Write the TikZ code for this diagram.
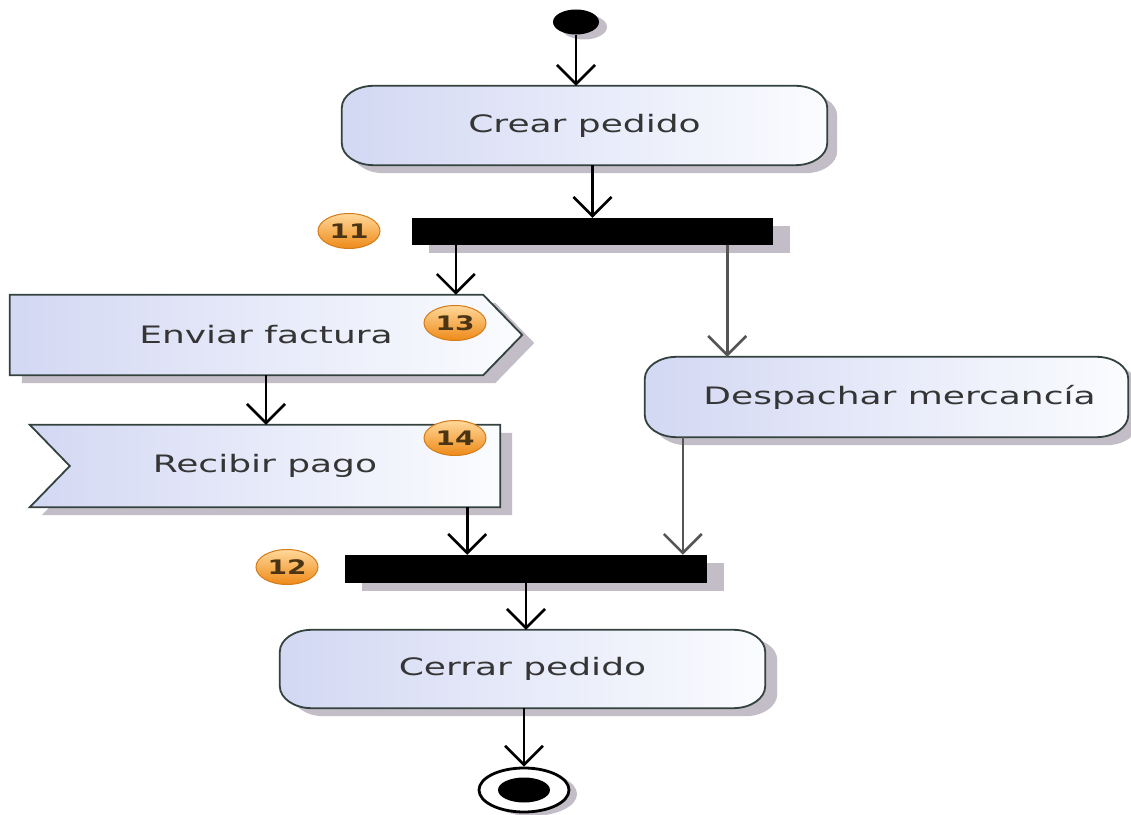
\documentclass[tikz,border=0pt]{standalone}
\usepackage{fontspec}
\usetikzlibrary{arrows.meta,shapes.geometric,calc,backgrounds}

\newfontfamily\lblfont[FakeStretch=1.5]{DejaVu Sans}
\newfontfamily\numfont[FakeStretch=1.4]{DejaVu Sans}

\definecolor{boxleft}{HTML}{D3D8F3}
\definecolor{boxright}{HTML}{FBFCFF}
\definecolor{boxedge}{HTML}{34423F}
\definecolor{shadowgray}{HTML}{C2BDC7}
\definecolor{labelgray}{HTML}{353535}
\definecolor{flowgray}{HTML}{555555}
\definecolor{badgetop}{HTML}{FFD89A}
\definecolor{badgebottom}{HTML}{EE8A18}
\definecolor{badgeedge}{HTML}{D47C1A}
\definecolor{badgetext}{HTML}{4A3413}

% corner radii of the action boxes
\def\rx{32pt}
\def\ry{22pt}

% rounded action box drawn around a named node, offset by (#3,#4)
\newcommand\actionpath[4]{%
  \path[#1] let \p1=($(#2.south west)+(#3,#4)$), \p2=($(#2.north east)+(#3,#4)$) in
    (\x1+\rx,\y1) -- (\x2-\rx,\y1)
    arc[start angle=-90,end angle=0,x radius=\rx,y radius=\ry]
    -- (\x2,\y2-\ry)
    arc[start angle=0,end angle=90,x radius=\rx,y radius=\ry]
    -- (\x1+\rx,\y2)
    arc[start angle=90,end angle=180,x radius=\rx,y radius=\ry]
    -- (\x1,\y1+\ry)
    arc[start angle=180,end angle=270,x radius=\rx,y radius=\ry]
    -- cycle;}

% send-signal pentagon around a named node, offset by (#3,#4)
\newcommand\sendpath[4]{%
  \path[#1] let \p1=($(#2.south west)+(#3,#4)$), \p2=($(#2.north east)+(#3,#4)$) in
    (\x1,\y1) -- (\x2-39pt,\y1) -- (\x2,{(\y1+\y2)/2})
    -- (\x2-39pt,\y2) -- (\x1,\y2) -- cycle;}

% accept-event shape with a notch on the left, offset by (#3,#4)
\newcommand\acceptpath[4]{%
  \path[#1] let \p1=($(#2.south west)+(#3,#4)$), \p2=($(#2.north east)+(#3,#4)$) in
    (\x1,\y1) -- (\x2,\y1) -- (\x2,\y2) -- (\x1,\y2)
    -- (\x1+40pt,{(\y1+\y2)/2}) -- cycle;}

\tikzset{
  lbl/.style={font=\lblfont\fontsize{24}{28}\selectfont, text=labelgray, inner sep=0pt},
  flow/.style={line width=2.6pt, -{Straight Barb[length=19pt,width=38pt]}},
  syncbar/.style={fill=black, inner sep=0pt},
  badge/.style={ellipse, minimum width=62pt, minimum height=35pt, inner sep=0pt,
    top color=badgetop, bottom color=badgebottom, draw=badgeedge, line width=1pt,
    font=\numfont\bfseries\fontsize{20}{22}\selectfont, text=badgetext},
  boxshadow/.style={fill=shadowgray},
  boxbody/.style={left color=boxleft, right color=boxright, draw=boxedge, line width=1.8pt},
}

\begin{document}
\begin{tikzpicture}[x=1pt,y=1pt]
\useasboundingbox (0,0) rectangle (1131,814);

% initial node
\node[ellipse, fill=black, minimum width=46pt, minimum height=25pt, inner sep=0pt] (start) at (576,792) {};

% actions
\node[lbl, minimum width=485pt, minimum height=79pt] (crear) at (584.5,688.5) {Crear pedido};
\node[lbl, minimum width=512pt, minimum height=80pt] (enviar) at (266,479) {Enviar factura};
\node[lbl, minimum width=470pt, minimum height=82pt] (recibir) at (265,348) {Recibir pago};
\node[lbl, minimum width=483pt, minimum height=80pt] (despachar) at (886.5,417) {\hspace*{26pt}Despachar mercancía};
\node[lbl, minimum width=485pt, minimum height=78pt] (cerrar) at (522.5,145) {Cerrar pedido};

% fork and join bars
\node[syncbar, minimum width=361pt, minimum height=27pt] (bar11) at (592.5,582.5) {};
\node[syncbar, minimum width=362pt, minimum height=28pt] (bar12) at (526,245) {};

% final node
\node[ellipse, draw=black, fill=white, line width=2.8pt, minimum width=90pt, minimum height=44pt, inner sep=0pt] (end) at (524,24) {};
\fill (end.center) ellipse[x radius=26, y radius=12.5];

% numbered badges
\node[badge] (b11) at (349,583) {11};
\node[badge] (b13) at (455,491) {13};
\node[badge] (b14) at (455,376) {14};
\node[badge] (b12) at (287,247) {12};

\begin{scope}[on background layer]
  \fill[white] (0,0) rectangle (1131,814);
  % shadows
  \fill[shadowgray] ([xshift=8pt,yshift=-5pt]start.center) ellipse[x radius=23, y radius=12.5];
  \actionpath{boxshadow}{crear}{10pt}{-8pt}
  \sendpath{boxshadow}{enviar}{12pt}{-8pt}
  \acceptpath{boxshadow}{recibir}{12pt}{-8pt}
  \actionpath{boxshadow}{despachar}{10pt}{-8pt}
  \actionpath{boxshadow}{cerrar}{12pt}{-8pt}
  \fill[shadowgray] ([xshift=17pt,yshift=-8pt]bar11.south west) rectangle ([xshift=17pt,yshift=-8pt]bar11.north east);
  \fill[shadowgray] ([xshift=17pt,yshift=-8pt]bar12.south west) rectangle ([xshift=17pt,yshift=-8pt]bar12.north east);
  \fill[shadowgray] ([xshift=8pt,yshift=-4pt]end.center) ellipse[x radius=45, y radius=22];
  % bodies
  \actionpath{boxbody}{crear}{0pt}{0pt}
  \sendpath{boxbody}{enviar}{0pt}{0pt}
  \acceptpath{boxbody}{recibir}{0pt}{0pt}
  \actionpath{boxbody}{despachar}{0pt}{0pt}
  \actionpath{boxbody}{cerrar}{0pt}{0pt}
\end{scope}

% branch points on the bars
\coordinate (f11a) at ([xshift=44pt]bar11.south west);
\coordinate (f11b) at ([xshift=-46pt]bar11.south east);
\coordinate (j12a) at ([xshift=-33pt]recibir.south east);
\coordinate (j12b) at ([xshift=38pt]despachar.south west);

% control flow
\draw[flow] (start.south) -- (start.south |- crear.north);
\draw[flow] (crear.south -| bar11.north) -- (bar11.north);
\draw[flow] (f11a) -- (f11a |- enviar.north);
\draw[flow, draw=flowgray] (f11b) -- (f11b |- despachar.north);
\draw[flow] (enviar.south) -- (enviar.south |- recibir.north);
\draw[flow] (j12a) -- (j12a |- bar12.north);
\draw[flow, draw=flowgray] (j12b) -- (j12b |- bar12.north);
\draw[flow] (bar12.south) -- (bar12.south |- cerrar.north);
\draw[flow] (cerrar.south -| end.north) -- (end.north);
\end{tikzpicture}
\end{document}
